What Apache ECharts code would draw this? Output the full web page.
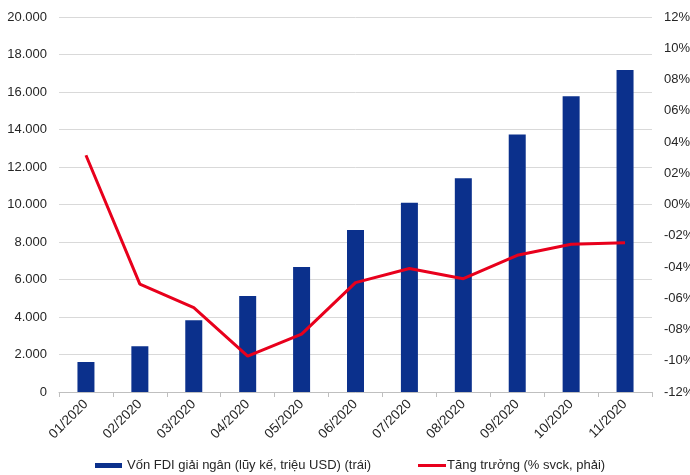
<!DOCTYPE html>
<html>
<head>
<meta charset="utf-8">
<script src="https://cdn.jsdelivr.net/npm/echarts@6/dist/echarts.min.js"></script>
<style>
  html, body { margin: 0; padding: 0; background: #fff; }
  #chart { width: 690px; height: 475px; }
</style>
</head>
<body>
<div id="chart"></div>
<script>
// Months (category axis)
const months = ['01/2020', '02/2020', '03/2020', '04/2020', '05/2020', '06/2020',
                '07/2020', '08/2020', '09/2020', '10/2020', '11/2020'];
// Disbursed FDI, cumulative (million USD) - left axis
const fdiDisbursed = [1600, 2440, 3830, 5120, 6670, 8640, 10100, 11400, 13740, 15770, 17170];
// Year-on-year growth (%) - right axis
const growthYoY = [3.15, -5.1, -6.6, -9.7, -8.3, -5.0, -4.1, -4.75, -3.25, -2.55, -2.45];

const seriesNames = ['Vốn FDI giải ngân (lũy kế, triệu USD) (trái)', 'Tăng trưởng (% svck, phải)'];

const labelFont = { fontFamily: 'Liberation Sans, Arial, sans-serif', fontSize: 13, color: '#262626' };

function fmtThousands(v) {
  return String(v).replace(/\B(?=(\d{3})+(?!\d))/g, '.');
}
function fmtPct(v) {
  const a = Math.abs(Math.round(v));
  return (v < 0 ? '-' : '') + (a < 10 ? '0' + a : a) + '%';
}

const chart = echarts.init(document.getElementById('chart'), null, { renderer: 'canvas' });
chart.setOption({
  animation: false,
  backgroundColor: '#ffffff',
  grid: { left: 59, right: 38, top: 17, bottom: 83, outerBoundsMode: 'none', containLabel: false },
  legend: [
    {
      data: [{ name: seriesNames[0], icon: 'rect' }],
      left: 90, top: 454,
      itemWidth: 27, itemHeight: 5,
      textStyle: labelFont
    },
    {
      data: [{ name: seriesNames[1], icon: 'rect' }],
      left: 413, top: 454,
      itemWidth: 28, itemHeight: 3,
      textStyle: Object.assign({}, labelFont, { padding: [0, 0, 0, -4] })
    }
  ],
  xAxis: {
    type: 'category',
    data: months,
    boundaryGap: true,
    axisLine: { show: true, lineStyle: { color: '#bfbfbf', width: 1 } },
    axisTick: { show: true, alignWithLabel: false, length: 5, lineStyle: { color: '#bfbfbf' } },
    axisLabel: Object.assign({}, labelFont, { fontSize: 13.5, rotate: 45, margin: 10, interval: 0 })
  },
  yAxis: [
    {
      type: 'value',
      min: 0, max: 20000, interval: 2000,
      axisLine: { show: false },
      axisTick: { show: false },
      splitLine: { show: true, lineStyle: { color: '#d9d9d9', width: 1 } },
      axisLabel: Object.assign({}, labelFont, { margin: 12, formatter: fmtThousands })
    },
    {
      type: 'value',
      min: -12, max: 12, interval: 2,
      position: 'right',
      axisLine: { show: false },
      axisTick: { show: false },
      splitLine: { show: false },
      axisLabel: Object.assign({}, labelFont, { margin: 12, formatter: fmtPct })
    }
  ],
  series: [
    {
      name: seriesNames[0],
      type: 'bar',
      yAxisIndex: 0,
      data: fdiDisbursed,
      barWidth: 17,
      itemStyle: { color: '#0b308c' }
    },
    {
      name: seriesNames[1],
      type: 'line',
      yAxisIndex: 1,
      data: growthYoY,
      symbol: 'none',
      lineStyle: { color: '#e8001c', width: 3 },
      itemStyle: { color: '#e8001c' }
    }
  ]
});
</script>
</body>
</html>
